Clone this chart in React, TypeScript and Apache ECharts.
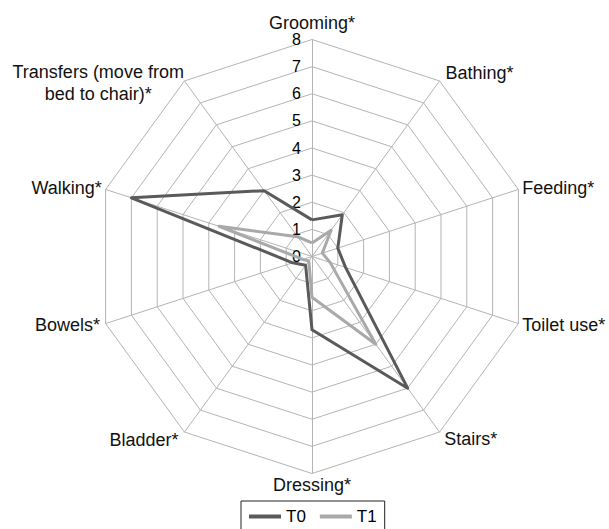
import React, { useEffect, useRef } from 'react';
import * as echarts from 'echarts';

// Indicators listed clockwise starting at the top
const indicatorNames = [
  'Grooming*',
  'Bathing*',
  'Feeding*',
  'Toilet use*',
  'Stairs*',
  'Dressing*',
  'Bladder*',
  'Bowels*',
  'Walking*',
  'Transfers (move from bed to chair)*',
];
const t0Values = [1.35, 1.9, 1.0, 1.3, 6.0, 2.7, 0.4, 0.75, 7.0, 3.0];
const t1Values = [0.5, 1.2, 0.4, 0.7, 4.0, 1.5, 0.2, 0.35, 3.6, 0.9];
const seriesNames = ['T0', 'T1'];
const axisMax = 8;
const nameGaps = [8, 10, 4, 4, 8, 2, 10, 6, 4, -3];

export default function App() {
  const ref = useRef<HTMLDivElement>(null);

  useEffect(() => {
    document.body.style.margin = '0';
    if (!ref.current) return;
    const chart = echarts.init(ref.current, undefined, { renderer: 'svg' });

    // ECharts lays radar indicators counter-clockwise; reverse (keeping the first)
    const order = [0, ...indicatorNames.slice(1).map((_, i) => indicatorNames.length - 1 - i)];

    const font = '"Liberation Sans", Arial, sans-serif';
    const tickLabel = {
      show: true,
      color: '#000',
      fontSize: 16,
      fontFamily: font,
      margin: 11,
    };
    const indicator = order.map((idx) => ({
      name: indicatorNames[idx],
      max: axisMax,
      min: 0,
      nameGap: nameGaps[idx],
      axisLabel: idx === 0 ? tickLabel : { show: false },
    }));

    chart.setOption({
      animation: false,
      backgroundColor: '#ffffff',
      legend: {
        data: seriesNames,
        left: 241,
        top: 501,
        icon: 'rect',
        itemWidth: 32,
        itemHeight: 4,
        itemGap: 14,
        padding: [7, 8],
        borderColor: '#222',
        borderWidth: 1,
        textStyle: { fontSize: 17, color: '#000', fontFamily: font },
      },
      radar: {
        center: [312, 256.5],
        radius: 217,
        startAngle: 90,
        shape: 'polygon',
        splitNumber: 8,
        indicator,
        axisName: {
          color: '#111',
          fontSize: 18,
          fontFamily: font,
          formatter: (value: string) => {
            if (value.startsWith('Transfers')) {
              return '{t|Transfers (move from}\n{t|bed to chair)*}';
            }
            return value;
          },
          rich: {
            t: {
              width: 176,
              align: 'center',
              fontSize: 18,
              lineHeight: 22,
              fontFamily: font,
              color: '#111',
            },
          },
        },
        axisLine: { lineStyle: { color: '#b4b4b4', width: 1 } },
        splitLine: { lineStyle: { color: '#b4b4b4', width: 1 } },
        splitArea: { show: false },
        axisTick: { show: false },
        axisLabel: tickLabel,
      },
      series: [
        {
          type: 'radar',
          symbol: 'none',
          data: [
            {
              name: seriesNames[0],
              value: order.map((i) => t0Values[i]),
              itemStyle: { color: '#5a5a5a' },
              lineStyle: { color: '#5a5a5a', width: 3 },
            },
            {
              name: seriesNames[1],
              value: order.map((i) => t1Values[i]),
              itemStyle: { color: '#a9a9a9' },
              lineStyle: { color: '#a9a9a9', width: 3 },
            },
          ],
        },
      ],
    });

    return () => chart.dispose();
  }, []);

  return <div ref={ref} style={{ width: 609, height: 529 }} />;
}
